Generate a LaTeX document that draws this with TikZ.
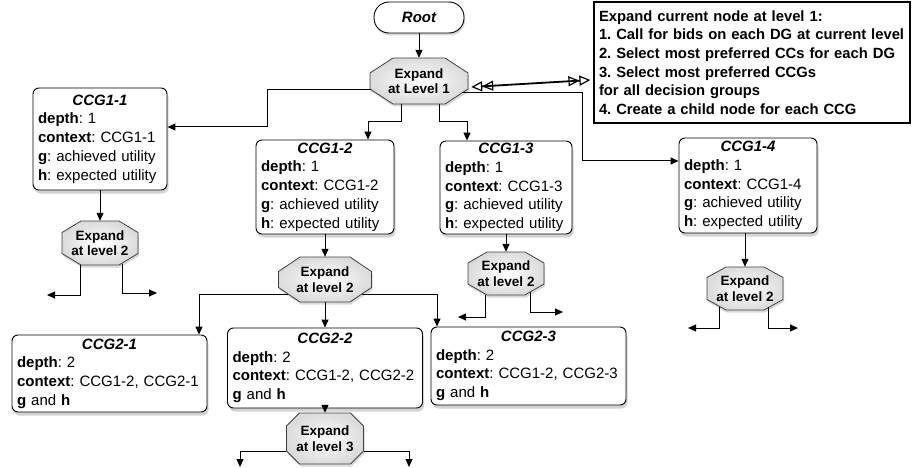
\documentclass[tikz,border=0pt]{standalone}
\usepackage{fontspec}
\setmainfont{Liberation Sans}
\usetikzlibrary{arrows.meta,calc,shadows}
\frenchspacing
\hyphenpenalty=10000
\exhyphenpenalty=10000

\newcommand\ccghead[1]{\noindent\makebox[\hsize]{\textbf{\textit{#1}}}}
\newcommand\myocto[7]{%
  \path[octpath] (#2) ++({-(#3)/2+(#5)},{-(#4)/2}) -- ++({(#3)-2*(#5)},0)
    -- ++(#5,#6) -- ++(0,{(#4)-2*(#6)}) -- ++(-#5,#6)
    -- ++({-(#3)+2*(#5)},0) -- ++(-#5,-#6) -- ++(0,{-(#4)+2*(#6)}) -- cycle;
  \node[octtext, minimum width=#3pt, minimum height=#4pt] (#1) at (#2) {#7};
}

\tikzset{
  conn/.style={line width=1pt, -{Triangle[length=8pt,width=7pt]}},
  dbl/.style={line width=1.8pt,
    {Triangle[open,length=11pt,width=10pt,line width=1.2pt]Triangle[open,length=11pt,width=10pt,line width=1.2pt]}-{Triangle[open,length=11pt,width=10pt,line width=1.2pt]Triangle[open,length=11pt,width=10pt,line width=1.2pt]}},
  ccgbox/.style={draw, line width=0.9pt, fill=white, rounded corners=6pt,
    inner xsep=5pt, inner ysep=0pt, align=left,
    font=\fontsize{15}{18.7}\selectfont,
    drop shadow={opacity=0.35, shadow xshift=1.5pt, shadow yshift=-3.5pt}},
  rootnode/.style={draw, line width=0.9pt, fill=white, rounded corners=15pt,
    minimum width=90pt, minimum height=31pt, inner sep=0pt,
    font=\bfseries\itshape\fontsize{15}{18}\selectfont,
    drop shadow={opacity=0.3, shadow xshift=1pt, shadow yshift=-2.5pt}},
  infobox/.style={draw, line width=1.2pt, fill=white, text width=306pt,
    inner xsep=5pt, inner ysep=0pt, minimum height=121pt, align=left,
    font=\bfseries\fontsize{14.8}{18.6}\selectfont,
    drop shadow={opacity=0.25, shadow xshift=0pt, shadow yshift=-1.5pt}},
  octpath/.style={draw=black!75, line width=0.8pt, inner color=white, outer color=gray!28,
    drop shadow={opacity=0.3, shadow xshift=1pt, shadow yshift=-2.5pt}},
  octtext/.style={draw=none, align=center, inner sep=0pt,
    font=\bfseries\fontsize{13.5}{15.5}\selectfont},
}

\begin{document}
\begin{tikzpicture}[x=1pt,y=-1pt]
\useasboundingbox (0,0) rectangle (913,468);

% nodes
\node[rootnode] (root) at (419,17.5) {Root};
\myocto{e1}{419,81}{98}{46}{23}{15}{Expand\\at Level 1}
\node[infobox] (info) at (752,62.5) {\mbox{Expand current node at level 1:}\\\mbox{1. Call for bids on each DG at current level}\\\mbox{2. Select most preferred CCs for each DG}\\\mbox{3. Select most preferred CCGs}\\\mbox{for all decision groups}\\\mbox{4. Create a child node for each CCG}};

\node[ccgbox, text width=124pt, minimum height=102pt] (c11) at (100,139)
  {\ccghead{CCG1-1}\\\textbf{depth}: 1\\\textbf{context}: CCG1-1\\\textbf{g}: achieved utility\\\textbf{h}: expected utility};
\node[ccgbox, text width=128pt, minimum height=94pt] (c12) at (325,187)
  {\ccghead{CCG1-2}\\\textbf{depth}: 1\\\textbf{context}: CCG1-2\\\textbf{g}: achieved utility\\\textbf{h}: expected utility};
\node[ccgbox, text width=122pt, minimum height=93pt] (c13) at (506,187.5)
  {\ccghead{CCG1-3}\\\textbf{depth}: 1\\\textbf{context}: CCG1-3\\\textbf{g}: achieved utility\\\textbf{h}: expected utility};
\node[ccgbox, text width=128pt, minimum height=95pt] (c14) at (748,185.5)
  {\ccghead{CCG1-4}\\\textbf{depth}: 1\\\textbf{context}: CCG1-4\\\textbf{g}: achieved utility\\\textbf{h}: expected utility};

\myocto{e11}{100,243}{76}{44}{19}{11.5}{Expand\\at level 2}
\myocto{e12}{325,279.5}{93}{45}{21.5}{14.5}{Expand\\at level 2}
\myocto{e13}{506,273.5}{76}{43}{19}{11}{Expand\\at level 2}
\myocto{e14}{745,288.5}{76}{43}{19}{10.5}{Expand\\at level 2}

\node[ccgbox, text width=185pt, minimum height=77pt] (c21) at (109.5,373.5)
  {\ccghead{CCG2-1}\\\textbf{depth}: 2\\\textbf{context}: CCG1-2, CCG2-1\\\textbf{g} and \textbf{h}};
\node[ccgbox, text width=185pt, minimum height=80pt] (c22) at (325,368)
  {\ccghead{CCG2-2}\\\textbf{depth}: 2\\\textbf{context}: CCG1-2, CCG2-2\\\textbf{g} and \textbf{h}};
\node[ccgbox, text width=185pt, minimum height=78pt] (c23) at (528.5,366)
  {\ccghead{CCG2-3}\\\textbf{depth}: 2\\\textbf{context}: CCG1-2, CCG2-3\\\textbf{g} and \textbf{h}};

\myocto{e22}{325,438.5}{77}{51}{13}{13}{Expand\\at level 3}

% free ends and corners
\coordinate (k1) at (267,127);
\coordinate (k4) at (582,161);
\coordinate (f11a) at (47,295);
\coordinate (f11b) at (157,293);
\coordinate (f13a) at (458,317);
\coordinate (f13b) at (563,312);
\coordinate (f14a) at (688,328);
\coordinate (f14b) at (798,328);
\coordinate (f22a) at (240,467);
\coordinate (f22b) at (409,467);

% connectors
\draw[conn] (root) -- (e1);
\draw[dbl] ($(e1.east)+(3,6)$) -- ($(info.west)+(-3,17.5)$);
\draw[conn] ($(e1.west)+(1.5,9)$) -| (k1) -- (k1 -| c11.east);
\draw[conn] ($(e1.east)+(-6,12)$) -| (k4) -- (k4 -| c14.west);
\draw[conn] ($(e1.south)+(-18,0)$) |- ($(c12.north)+(43,-18)$) -- ($(c12.north)+(43,0)$);
\draw[conn] ($(e1.south)+(20,0)$) |- ($(c13.north)+(-39,-19)$) -- ($(c13.north)+(-39,0)$);

\draw[conn] (c11) -- (e11);
\draw[conn] (c12) -- (e12);
\draw[conn] (c13) -- (e13);
\draw[conn] (c14.south -| e14.north) -- (e14.north);

\draw[conn] ($(e11.south)+(-20,0)$) |- (f11a);
\draw[conn] ($(e11.south)+(22,-1.5)$) |- (f11b);
\draw[conn] ($(e13.south)+(-21,0)$) |- (f13a);
\draw[conn] ($(e13.south)+(24,-3)$) |- (f13b);
\draw[conn] ($(e14.south)+(-26,-3)$) |- (f14a);
\draw[conn] ($(e14.south)+(23,-3)$) |- (f14b);

\draw[conn] ($(e12.west)+(10,14.5)$) -| ($(c21.north)+(89.5,0)$);
\draw[conn] (e12) -- (c22);
\draw[conn] ($(e12.east)+(-10,14.5)$) -| ($(c23.north)+(-91.5,0)$);

\draw[conn] (c22) -- (e22);
\draw[conn] ($(e22.west)+(0,12.5)$) -| (f22a);
\draw[conn] ($(e22.east)+(0,12.5)$) -| (f22b);
\end{tikzpicture}
\end{document}
